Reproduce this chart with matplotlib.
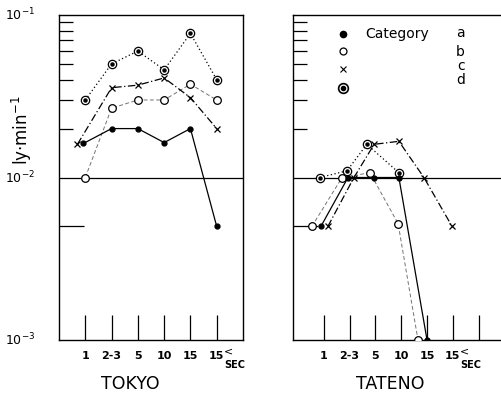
import matplotlib.pyplot as plt
from matplotlib.ticker import NullFormatter, FixedLocator

# categories (duration classes)
cats = ['1', '2-3', '5', '10', '15', '15']
cat_pos = [1, 2, 3, 4, 5, 6]

# TOKYO, values in ly/min
tokyo_x_a = [0.93, 2, 3, 4, 5, 6]
tokyo_a = [0.0162, 0.020, 0.020, 0.0164, 0.020, 0.005]
tokyo_x_b = [1, 2, 3, 4, 5, 6]
tokyo_b = [0.010, 0.0267, 0.030, 0.030, 0.0375, 0.030]
tokyo_x_c = [0.7, 2, 3, 4, 5, 6]
tokyo_c = [0.016, 0.0357, 0.037, 0.041, 0.031, 0.020]
tokyo_x_d = [1, 2, 3, 4, 5, 6]
tokyo_d = [0.030, 0.050, 0.060, 0.046, 0.077, 0.040]

# TATENO
tateno_x_a = [0.89, 1.94, 2.95, 3.91, 5.0]
tateno_a = [0.005, 0.010, 0.010, 0.010, 0.001]
tateno_x_b = [0.54, 1.71, 2.79, 3.88, 4.65]
tateno_b = [0.005, 0.010, 0.0107, 0.0052, 0.001]
tateno_x_c = [1.16, 2.17, 2.95, 3.91, 4.88, 5.97]
tateno_c = [0.005, 0.010, 0.016, 0.0167, 0.010, 0.005]
tateno_x_d = [0.85, 1.9, 2.67, 3.91]
tateno_d = [0.010, 0.011, 0.016, 0.0107]

legend_labels = ['a', 'b', 'c', 'd']

fig = plt.figure(figsize=(5.01, 3.95), dpi=100)
ax1 = fig.add_axes([59 / 501, 1 - 340 / 395, (243 - 59) / 501, 325 / 395])
ax2 = fig.add_axes([293 / 501, 1 - 340 / 395, (512 - 293) / 501, 325 / 395])


def draw_series(ax, xa, a, xb, b, xc, c, xd, d):
    ax.plot(xa, a, '-', color='black', lw=0.9, marker='o', ms=3.5, zorder=4)
    ax.plot(xb, b, color='0.45', lw=0.7, ls=(0, (4, 2.5)), marker='o', ms=5.5,
            mfc='white', mec='black', mew=0.9, zorder=3)
    ax.plot(xc, c, color='black', lw=0.9, ls=(0, (6, 2, 1, 2)), marker='x', ms=4.5,
            mew=0.9, zorder=3)
    ax.plot(xd, d, color='black', lw=0.9, ls=(0, (1, 2)), marker='o', ms=6,
            mfc='white', mec='black', mew=0.9, zorder=3)
    ax.plot(xd, d, ls='none', marker='o', ms=2.2, color='black', zorder=5)


draw_series(ax1, tokyo_x_a, tokyo_a, tokyo_x_b, tokyo_b,
            tokyo_x_c, tokyo_c, tokyo_x_d, tokyo_d)
draw_series(ax2, tateno_x_a, tateno_a, tateno_x_b, tateno_b,
            tateno_x_c, tateno_c, tateno_x_d, tateno_d)

for ax, xlo, xhi, ticks in [(ax1, 0, 7, cat_pos), (ax2, -0.19, 8.29, cat_pos + [7])]:
    ax.set_yscale('log')
    ax.set_ylim(1e-3, 1e-1)
    ax.set_xlim(xlo, xhi)
    ax.axhline(1e-2, color='black', lw=0.9, zorder=1)
    for s in ax.spines.values():
        s.set_linewidth(1.0)
    ax.set_xticks(ticks)
    ax.tick_params(axis='x', direction='in', length=18, width=0.9, labelbottom=False)
    ax.yaxis.set_major_locator(FixedLocator([5e-3]))
    ax.yaxis.set_minor_locator(FixedLocator([k * 1e-2 for k in range(2, 10)]))
    ax.yaxis.set_major_formatter(NullFormatter())
    ax.yaxis.set_minor_formatter(NullFormatter())
    ax.tick_params(axis='y', which='major', direction='in', length=18, width=0.9)
    ax.tick_params(axis='y', which='minor', direction='in', length=10, width=0.9)
    for p, lab in zip(cat_pos, cats):
        ax.text(p, -0.035, lab, transform=ax.get_xaxis_transform(), ha='center',
                va='top', fontsize=8, fontweight='bold')
    ax.text(6.45, -0.02, '<', transform=ax.get_xaxis_transform(), ha='center',
            va='top', fontsize=8)
    ax.text(6.7, -0.06, 'SEC', transform=ax.get_xaxis_transform(), ha='center',
            va='top', fontsize=7, fontweight='bold')

# y tick labels (left panel only)
for val, lab in [(1e-1, '$10^{-1}$'), (1e-2, '$10^{-2}$'), (1e-3, '$10^{-3}$')]:
    ax1.text(-0.13, val, lab, transform=ax1.get_yaxis_transform(), ha='right',
             va='center', fontsize=9)
fig.text(22 / 501, 1 - 130 / 395, 'ly$\\cdot$min$^{-1}$', rotation=90,
         ha='center', va='center', fontsize=12)

fig.text(130 / 501, 1 - 384 / 395, 'TOKYO', ha='center', va='center',
         fontsize=12.5, color='black')
fig.text(390 / 501, 1 - 384 / 395, 'TATENO', ha='center', va='center',
         fontsize=12.5, color='black')

# legend drawn by hand as in the original
leg_y = [0.0763, 0.060, 0.0464, 0.0355]
ax2.plot(1.75, leg_y[0], 'o', color='black', ms=4.5)
ax2.plot(1.75, leg_y[1], 'o', mfc='white', mec='black', ms=5, mew=0.9)
ax2.plot(1.75, leg_y[2], 'x', color='black', ms=4, mew=0.8)
ax2.plot(1.75, leg_y[3], 'o', mfc='white', mec='black', ms=7, mew=1.2)
ax2.plot(1.75, leg_y[3], 'o', color='black', ms=3)
ax2.text(2.6, leg_y[0], 'Category', fontsize=10, va='center', ha='left')
let_y = [0.0774, 0.059, 0.0484, 0.0397]
for yy, lab in zip(let_y, legend_labels):
    ax2.text(6.3, yy, lab, fontsize=10, va='center', ha='center')

fig.savefig('out.png', dpi=100)
